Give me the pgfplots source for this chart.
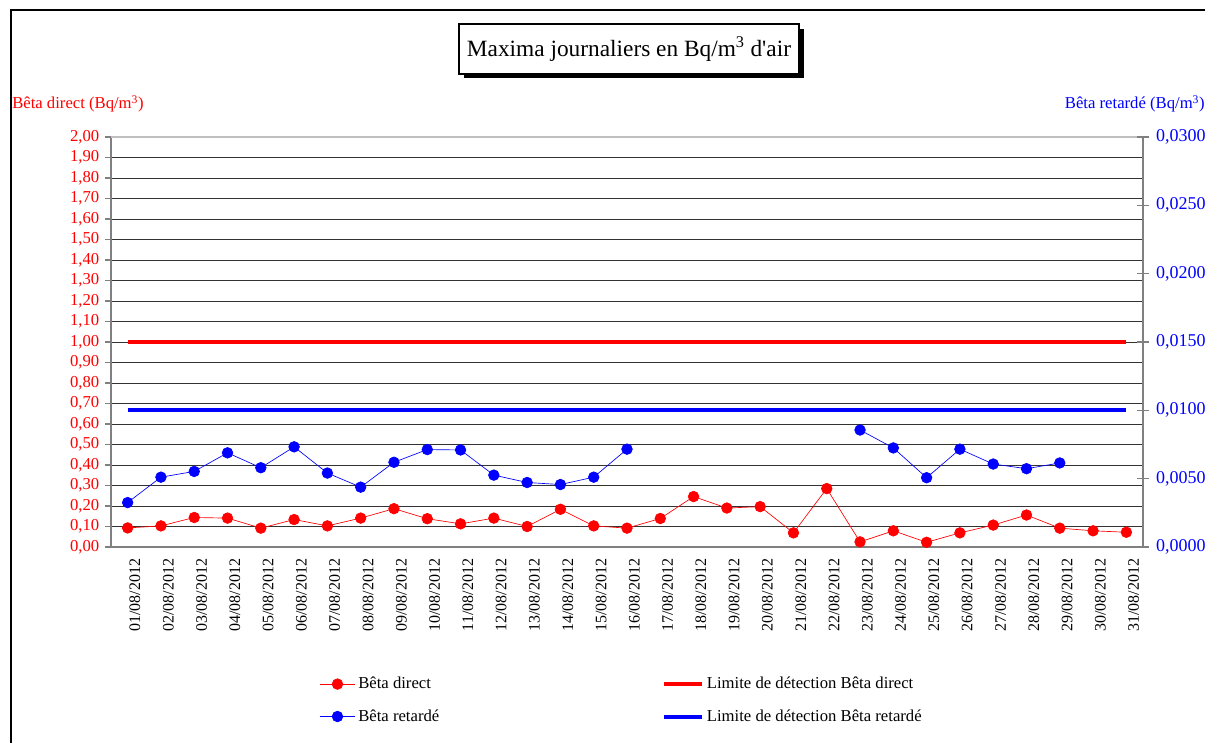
\documentclass[12pt,border=0pt]{standalone}
\usepackage{fontspec}
\setmainfont{Liberation Serif}
\usepackage{pgfplots}
\pgfplotsset{compat=1.18}
\usetikzlibrary{shadows}

\definecolor{xlred}{RGB}{255,0,0}
\definecolor{xlblue}{RGB}{0,0,255}
\definecolor{axisgray}{RGB}{128,128,128}

\pgfplotsset{
  dataline/.style={line width=0.5pt, mark=*, mark size=4pt,
    mark options={solid, draw=none},
    legend image code/.code={
      \draw[##1, mark repeat=2, mark phase=2]
        plot coordinates {(0cm,0cm) (0.47cm,0cm) (0.94cm,0cm)};}},
  limitline/.style={line width=3pt, no marks,
    legend image code/.code={\draw[##1] (0cm,0cm) -- (1.0cm,0cm);}},
}

\begin{document}
\fontsize{12.5pt}{15pt}\selectfont
\begin{tikzpicture}
% 1 px of the reference = 0.75pt
\path[use as bounding box] (0pt,0pt) rectangle (903.75pt,557.25pt);
% outer frame of the chart (cut by the picture edges)
\draw[line width=1.5pt] (8.25pt,0pt) -- (8.25pt,549.75pt) -- (903.75pt,549.75pt);

% title
\node[draw, line width=1.6pt, fill=white,
      drop shadow={shadow xshift=3.5pt, shadow yshift=-3.5pt, fill=black, opacity=1},
      minimum width=255pt, minimum height=37pt,
      font=\fontsize{17.5}{21}\selectfont] at (471.75pt,520.5pt)
  {Maxima journaliers en Bq/m\textsuperscript{3} d\textquotesingle air};

% axis names
\node[anchor=base west, inner sep=0pt, text=xlred] at (9pt,475.5pt)
  {Bêta direct (Bq/m\textsuperscript{3})};
\node[anchor=base east, inner sep=0pt, text=xlblue] at (903.75pt,475.5pt)
  {Bêta retardé (Bq/m\textsuperscript{3})};

% left axis: Beta direct
\begin{axis}[
  at={(83.25pt,147pt)}, anchor=south west,
  scale only axis, width=774pt, height=307.5pt,
  xmin=0.5, xmax=31.5, ymin=0, ymax=2,
  axis x line*=bottom, axis y line*=left,
  axis line style={axisgray, line width=1.1pt},
  xtick={1,...,31},
  xticklabels={01/08/2012,02/08/2012,03/08/2012,04/08/2012,05/08/2012,
    06/08/2012,07/08/2012,08/08/2012,09/08/2012,10/08/2012,11/08/2012,
    12/08/2012,13/08/2012,14/08/2012,15/08/2012,16/08/2012,17/08/2012,
    18/08/2012,19/08/2012,20/08/2012,21/08/2012,22/08/2012,23/08/2012,
    24/08/2012,25/08/2012,26/08/2012,27/08/2012,28/08/2012,29/08/2012,
    30/08/2012,31/08/2012},
  xticklabel style={rotate=90, anchor=east, yshift=-5.5pt,
    font=\fontsize{12}{14}\selectfont},
  x tick style={draw=none},
  minor xtick={0.5,1.5,...,31.5},
  minor x tick style={axisgray, line width=0.8pt},
  minor tick length=4.5pt,
  major tick length=4.5pt,
  tick align=outside,
  ytick distance=0.1,
  y tick style={axisgray, line width=0.8pt},
  yticklabel style={text=xlred,
    /pgf/number format/.cd, fixed, fixed zerofill, precision=2, use comma},
  /pgf/number format/assume math mode=true,
  ymajorgrids,
  grid style={black!80, line width=0.75pt},
  clip=false,
  legend columns=2,
  legend cell align=left,
  legend style={at={(axis description cs:0.2016,-0.31)}, anchor=north west,
    draw=none, fill=none, inner sep=0pt, row sep=9.75pt,
    font=\fontsize{12.5}{15}\selectfont},
]
% top border of the plot area is lighter than the grid
\draw[black!25, line width=1.2pt] (axis cs:0.5,2) -- (axis cs:31.5,2);
\addplot[xlred, dataline] coordinates {
  (1,0.093) (2,0.103) (3,0.144) (4,0.141) (5,0.092) (6,0.134) (7,0.103)
  (8,0.141) (9,0.187) (10,0.138) (11,0.113) (12,0.141) (13,0.100) (14,0.184)
  (15,0.103) (16,0.092) (17,0.139) (18,0.246) (19,0.190) (20,0.197)
  (21,0.069) (22,0.285) (23,0.025) (24,0.079) (25,0.023) (26,0.069)
  (27,0.107) (28,0.156) (29,0.092) (30,0.079) (31,0.072)
};
\addlegendentry{\makebox[226pt][l]{Bêta direct}}
\addplot[xlred, limitline] coordinates {(1,1.00) (31,1.00)};
\addlegendentry{Limite de détection Bêta direct}
\addlegendimage{xlblue, dataline}
\addlegendentry{\makebox[226pt][l]{Bêta retardé}}
\addlegendimage{xlblue, limitline}
\addlegendentry{Limite de détection Bêta retardé}
\end{axis}

% right axis: Beta retarde
\begin{axis}[
  at={(83.25pt,147pt)}, anchor=south west,
  scale only axis, width=774pt, height=307.5pt,
  xmin=0.5, xmax=31.5, ymin=0, ymax=0.03,
  axis x line=none, axis y line*=right,
  axis line style={axisgray, line width=1.1pt},
  ytick distance=0.005,
  scaled y ticks=false,
  ytick align=center,
  major tick length=9pt,
  y tick style={axisgray, line width=0.8pt},
  yticklabel style={text=xlblue, xshift=1pt,
    font=\fontsize{13.5}{16}\selectfont,
    /pgf/number format/.cd, fixed, fixed zerofill, precision=4, use comma},
  /pgf/number format/assume math mode=true,
  unbounded coords=jump,
]
\addplot[xlblue, limitline] coordinates {(1,0.0100) (31,0.0100)};
\addplot[xlblue, dataline] coordinates {
  (1,0.00325) (2,0.00511) (3,0.00553) (4,0.00689) (5,0.00580) (6,0.00733)
  (7,0.00541) (8,0.00438) (9,0.00620) (10,0.00713) (11,0.00710) (12,0.00526)
  (13,0.00472) (14,0.00457) (15,0.00511) (16,0.00716)
  (17,nan) (18,nan) (19,nan) (20,nan) (21,nan) (22,nan)
  (23,0.00856) (24,0.00725) (25,0.00507) (26,0.00716) (27,0.00607)
  (28,0.00573) (29,0.00615) (30,nan) (31,nan)
};
\end{axis}
\end{tikzpicture}
\end{document}
